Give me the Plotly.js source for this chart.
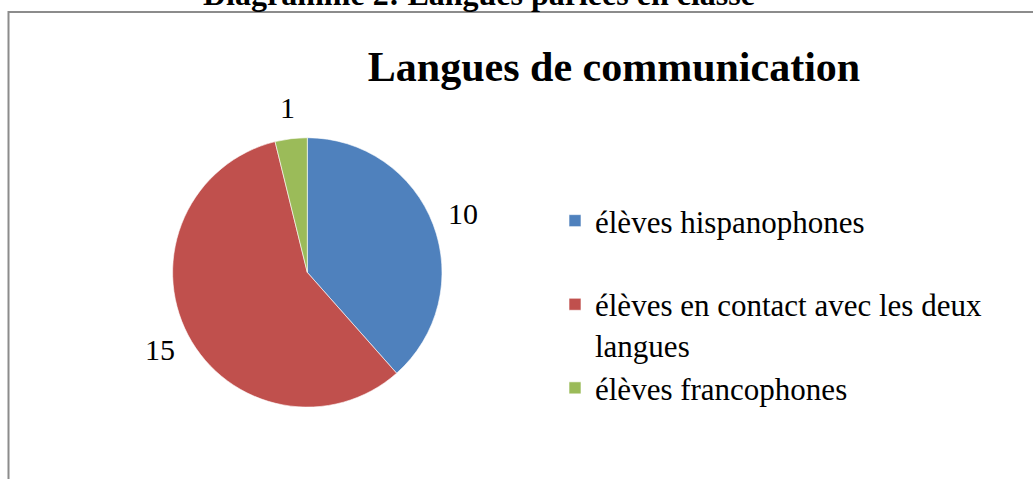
<!DOCTYPE html>
<html>
<head>
<meta charset="utf-8">
<script src="https://cdn.plot.ly/plotly-3.0.1.min.js"></script>
<style>html,body{margin:0;padding:0;background:#fff;}#chart{width:1033px;height:479px;}</style>
</head>
<body>
<div id="chart"></div>
<script>
// Data
var categories = ["élèves hispanophones", "élèves en contact avec les deux langues", "élèves francophones"];
var legendLabels = ["élèves hispanophones<br> ", "élèves en contact avec les deux<br>langues", "élèves francophones"];
var values = [10, 15, 1];
var colors = ["#4F81BD", "#C0504D", "#9BBB59"];
var chartTitle = "Langues de communication";
var pageHeading = "Diagramme 2: Langues parlées en classe";

var W = 1033, H = 479;
var serif = "Liberation Serif, Times New Roman, serif";

// pie geometry (pixels)
var cx = 307.3, cy = 272.4, r = 134.7, labelR = 166;

var trace = {
  type: "pie",
  labels: legendLabels,
  values: values,
  sort: false,
  direction: "clockwise",
  rotation: 0,
  marker: {colors: colors, line: {color: "#ffffff", width: 0.6}},
  textinfo: "none",
  hoverinfo: "none",
  domain: {x: [(cx - r) / W, (cx + r) / W], y: [(H - cy - r) / H, (H - cy + r) / H]}
};

// value labels placed outside each slice at its mid-angle
var total = values.reduce(function (a, b) { return a + b; }, 0);
var annotations = [];
var cum = 0;
values.forEach(function (v) {
  var mid = (cum + v / 2) / total * 2 * Math.PI;
  cum += v;
  annotations.push({
    text: String(v),
    xref: "paper", yref: "paper",
    x: (cx + labelR * Math.sin(mid)) / W,
    y: (H - (cy - labelR * Math.cos(mid))) / H,
    xanchor: "center", yanchor: "middle",
    showarrow: false,
    font: {family: serif, size: 30, color: "#000"}
  });
});
annotations.push({
  text: "<b>" + pageHeading + "</b>",
  xref: "paper", yref: "paper",
  x: 479 / W, xanchor: "center",
  y: 1 - 14 / H, yanchor: "bottom",
  showarrow: false,
  font: {family: serif, size: 32, color: "#000"}
});

var layout = {
  width: W, height: H,
  margin: {l: 0, r: 0, t: 0, b: 0},
  paper_bgcolor: "#fff",
  plot_bgcolor: "#fff",
  font: {family: serif, size: 30, color: "#000"},
  title: {
    text: "<b>" + chartTitle + "</b>",
    font: {family: serif, size: 42, color: "#000"},
    x: 614 / W, xanchor: "center", xref: "paper",
    y: 1 - 66 / H, yanchor: "middle", yref: "container"
  },
  showlegend: true,
  legend: {
    x: 555 / W, xanchor: "left",
    y: 1 - 194 / H, yanchor: "top",
    valign: "top",
    font: {family: serif, size: 31, color: "#000"},
    bgcolor: "rgba(0,0,0,0)",
    borderwidth: 0
  },
  annotations: annotations,
  shapes: [{
    type: "rect", xref: "paper", yref: "paper",
    x0: 8.5 / W, x1: 1.1, y0: -0.1, y1: 1 - 12 / H,
    line: {color: "#8c8c8c", width: 2},
    fillcolor: "rgba(0,0,0,0)"
  }]
};

Plotly.newPlot("chart", [trace], layout, {displayModeBar: false, staticPlot: true});
</script>
</body>
</html>
